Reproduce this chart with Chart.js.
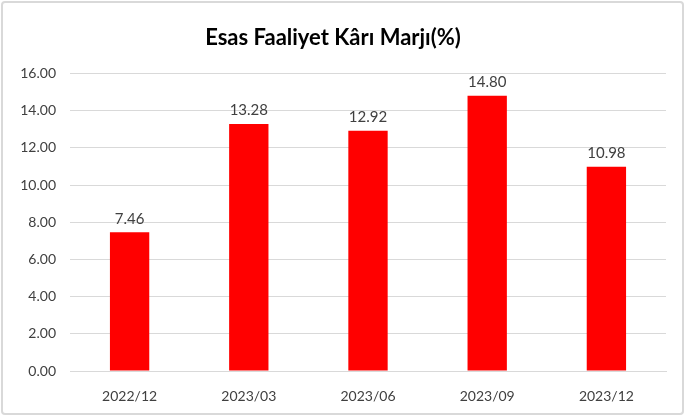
<!DOCTYPE html>
<html>
<head>
<meta charset="utf-8">
<script src="https://cdn.jsdelivr.net/npm/chart.js@4/dist/chart.umd.min.js"></script>
<style>
  html, body { margin: 0; padding: 0; background: #fff; }
  #wrap { position: relative; width: 685px; height: 416px; }
  #frame { position: absolute; left: 1px; top: 1px; width: 679px; height: 410px;
           border: 2px solid #d9d9d9; border-radius: 4px; pointer-events: none; }
</style>
</head>
<body>
<div id="wrap">
  <canvas id="marj" width="685" height="416"></canvas>
  <div id="frame"></div>
</div>
<script>
// quarters and operating profit margin values (%)
const periods = ['2022/12', '2023/03', '2023/06', '2023/09', '2023/12'];
const margins = [7.46, 13.28, 12.92, 14.80, 10.98];
const titleText = 'Esas Faaliyet Kârı Marjı(%)';

const fontFam = "Lato, 'Liberation Sans', sans-serif";

// value labels above each bar
const barLabels = {
    id: 'barLabels',
    afterDatasetsDraw(chart) {
        const ctx = chart.ctx;
        ctx.save();
        ctx.font = '15px ' + fontFam;
        ctx.fillStyle = '#404040';
        ctx.textAlign = 'center';
        ctx.textBaseline = 'bottom';
        chart.getDatasetMeta(0).data.forEach((bar, i) => {
            ctx.fillText(margins[i].toFixed(2), bar.x, bar.y - 6);
        });
        ctx.restore();
    }
};

new Chart('marj', {
    type: 'bar',
    data: {
        labels: periods,
        datasets: [{
            data: margins,
            backgroundColor: '#ff0000',
            barPercentage: 0.66,
            categoryPercentage: 0.5
        }]
    },
    options: {
        responsive: false,
        animation: false,
        layout: { padding: { left: 0, right: 19, top: 0, bottom: 13 } },
        plugins: {
            legend: { display: false },
            tooltip: { enabled: false },
            title: {
                display: true,
                text: titleText,
                color: '#000',
                font: { family: fontFam, size: 22, weight: 'bold' },
                padding: { top: 25, bottom: 22 }
            }
        },
        scales: {
            x: {
                grid: { display: false },
                border: { color: '#d9d9d9', width: 1 },
                ticks: { color: '#404040', padding: 9, font: { family: fontFam, size: 14 } },
                afterFit(s) { s.height = 32; }
            },
            y: {
                min: 0,
                max: 16,
                ticks: {
                    stepSize: 2,
                    color: '#404040',
                    padding: 14,
                    font: { family: fontFam, size: 14 },
                    callback: v => v.toFixed(2)
                },
                grid: { color: '#d9d9d9', drawTicks: false },
                border: { display: false },
                afterFit(s) { s.width = 70; }
            }
        }
    },
    plugins: [barLabels]
});
</script>
</body>
</html>
